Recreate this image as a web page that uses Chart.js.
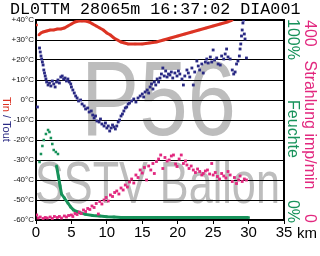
<!DOCTYPE html>
<html>
<head>
<meta charset="utf-8">
<script src="https://cdn.jsdelivr.net/npm/chart.js@4"></script>
<style>
html,body{margin:0;padding:0;background:#fff;}
canvas{display:block;}
</style>
</head>
<body>
<canvas id="c" width="320" height="256"></canvas>
<script>
// ---- data (km, value) ----
const titleText = "DL0TTM 28065m 16:37:02 DIA001";
const xTicks = [0, 5, 10, 15, 20, 25, 30, 35];
const tempRange = [-60, 40];
const feuchteRange = [0, 100];
const strahlungRange = [0, 400];

// Tin (°C)
const tinData = [
  [0.1,37.5],[0.25,null],[0.4,32.5],[0.7,33.5],[1,34],[1.5,34.5],[2,35],[2.5,35],[3,35.5],[3.5,35.5],
  [4,36],[4.5,37],[5,38],[5.5,39],[6,39.5],[6.5,39.5],[7,39.5],[7.5,39],[8,38],[8.5,37],
  [9,36],[9.5,35],[10,33.5],[10.5,32.5],[11,31],[11.5,30],[12,29],[12.5,28.5],[13,28],[14,28],
  [15,28],[16,28.5],[17,29],[18,30],[19,31],[20,32],[21,33],[22,34],[23,35],[24,36],
  [25,37],[26,38],[27,39],[27.7,40]
];

// Tout (°C)
const toutData = [
  [0.2,-3.5],[0.5,26],[0.6,24],[0.7,22],[0.8,20.5],[0.9,19],[1.0,17.5],[1.1,15],[1.2,13.5],[1.3,12],
  [1.4,10.5],[1.5,9],[1.7,7.5],[1.9,8.5],[2.1,7],[2.3,9.5],[2.5,8],[2.7,6.5],[2.9,9],[3.1,10],
  [3.3,8.5],[3.5,11.5],[3.7,12],[3.9,10.5],[4.1,11],[4.3,9.5],[4.5,10.5],[4.7,9],[4.9,8],[5.0,6.5],
  [5.2,5],[5.4,3.5],[5.6,2],[5.8,1],[6.0,-0.5],[6.3,0],[6.5,-2],[6.8,-3],[7.0,-4.5],[7.3,-4],
  [7.5,-6],[7.8,-5.5],[8.0,-7.5],[8.2,-9],[8.4,-8],[8.6,-10.5],[8.9,-11],[9.1,-9.5],[9.3,-12],[9.6,-13],
  [9.8,-11.5],[10.0,-14],[10.2,-13],[10.4,-15.5],[10.6,-14],[10.8,-12.5],[11.0,-13.5],[11.2,-14.5],[11.4,-13],[11.6,-11],
  [11.8,-10],[12.0,-8],[12.2,-7],[12.4,-5.5],[12.6,-4],[12.8,-3.5],[13.0,-2],[13.2,-1.5],[13.5,-0.5],[13.8,0.5],
  [14.1,-1],[14.4,1],[14.7,2],[15.0,3],[15.2,1.5],[15.4,4],[15.7,5],[15.9,3.5],[16.1,6.5],[16.3,8],
  [16.5,5.5],[16.7,9],[16.9,7.5],[17.1,10.5],[17.3,9],[17.5,11],[17.7,13],[17.9,16],[18.1,12],[18.3,14.5],
  [18.5,11.5],[18.7,13],[18.9,12.5],[19.1,14],[19.3,11],[19.6,13.5],[19.9,12],[20.1,14.5],[20.3,13],[20.6,10.5],
  [20.8,7.5],[21.0,12],[21.3,15],[21.5,13.5],[21.7,11.5],[22.0,16],[22.2,7.5],[22.4,14],[22.7,19.5],[22.9,17],
  [23.1,15],[23.4,18],[23.6,13.5],[23.9,19],[24.1,20.5],[24.3,18.5],[24.6,21.5],[24.8,19],[25.0,25],[25.2,20],
  [25.5,21],[25.7,18],[26.0,17.5],[26.2,22],[26.5,20.5],[26.7,23],[26.9,25.5],[27.1,21.5],[27.4,20.5],[27.7,15],
  [27.9,13],[28.1,14],[28.3,18],[28.5,19.5],[28.7,22],[28.8,25.5],[28.9,28],[29.0,32],[29.1,35],[29.2,38.5],
  [29.3,40],[29.4,33],[29.5,30.5],[29.7,21]
];

// Feuchte (%)
const feuchteData = [
  [0.5,29],[0.7,33],[0.9,37],[1.1,40],[1.4,43],[1.7,45],[1.9,44],[2.1,41],[2.3,38],[2.5,35],
  [2.8,34],[3.1,33],[2.9,27],[3.15,22],[3.4,17],[3.6,13],[4.0,11],[4.5,8.5],[4.9,6.5],[5.3,5],
  [5.8,4.2],[6.3,3.5],[7,2.8],[8,2.2],[9,2],[10,1.6],[11,1.5],[12,1.3],[14,1.2],[17,1.2],
  [20,1.2],[23,1.2],[26,1.2],[28,1.2],[30,1.2]
];

// Strahlung (imp/min)
const strahlungData = [
  [0.1,10],[0.3,4],[0.6,6],[1.0,3],[1.3,5],[1.6,4],[2.0,6],[2.3,3],[2.6,7],[3.0,5],
  [3.3,7],[3.6,4],[4.0,8],[4.3,6],[4.6,9],[5.0,10],[5.2,7],[5.5,13],[5.8,11],[6.1,16],
  [6.4,13],[6.7,20],[7.0,17],[7.3,23],[7.6,21],[7.9,28],[8.2,25],[8.5,33],[8.8,12],[9.0,37],
  [9.3,32],[9.6,40],[9.9,45],[10.2,38],[10.5,50],[10.8,47],[11.1,55],[11.4,58],[11.7,52],[12.0,64],
  [12.3,60],[12.6,70],[12.9,66],[13.2,76],[13.5,82],[13.8,74],[14.1,90],[14.4,85],[14.7,100],[15.0,94],
  [15.3,105],[15.6,80],[15.9,108],[16.2,100],[16.5,113],[16.7,93],[17.0,117],[17.3,122],[17.6,130],[17.9,103],
  [18.2,125],[18.5,118],[18.8,120],[19.1,128],[19.4,130],[19.7,112],[19.9,107],[20.2,122],[20.5,130],[20.8,113],
  [21.1,118],[21.3,110],[21.6,103],[21.9,108],[22.2,100],[22.5,95],[22.8,102],[23.1,97],[23.4,90],[23.6,93],
  [23.9,98],[24.2,100],[24.5,92],[24.8,113],[25.0,90],[25.3,95],[25.6,87],[25.9,82],[26.2,93],[26.5,88],
  [26.8,84],[27.1,97],[27.4,90],[27.7,77],[28.0,85],[28.3,73],[28.6,80],[28.8,88],[29.1,77],[29.4,82],
  [29.7,80]
];

const toXY = arr => arr.map(p => ({x: p[0], y: p[1]}));

const C_RED = '#dc3424', C_BLUE = '#2a2a84', C_GREEN = '#17925a', C_MAG = '#e2287f', C_GRAY = '#bdbdbd';
const F = '"Liberation Sans", Arial, sans-serif';
Chart.defaults.font.family = F;

const decor = {
  id: 'decor',
  beforeDraw(chart) {
    const ctx = chart.ctx;
    ctx.save();
    ctx.fillStyle = '#fff';
    ctx.fillRect(0, 0, chart.width, chart.height);
    ctx.fillStyle = C_GRAY;
    ctx.textBaseline = 'alphabetic';
    ctx.textAlign = 'left';
    ctx.save();
    ctx.translate(81, 135);
    ctx.scale(0.83, 1);
    ctx.font = '105px ' + F;
    ctx.fillText('P56', 0, 0);
    ctx.restore();
    ctx.save();
    ctx.translate(35, 203);
    ctx.scale(0.72, 1);
    ctx.font = '60px ' + F;
    ctx.fillText('SSTV Ballon', 0, 0);
    ctx.restore();
    ctx.restore();
  },
  beforeDatasetsDraw(chart) {
    const ctx = chart.ctx, a = chart.chartArea;
    ctx.save();
    ctx.strokeStyle = '#000';
    ctx.lineWidth = 2;
    ctx.beginPath();
    ctx.moveTo(a.left, a.top);
    ctx.lineTo(a.right, a.top);
    ctx.lineTo(a.right, a.bottom);
    ctx.stroke();
    ctx.restore();
  },
  afterDraw(chart) {
    const ctx = chart.ctx;
    ctx.save();
    // title
    ctx.fillStyle = '#000';
    ctx.font = '16.7px "Liberation Mono", monospace';
    ctx.textBaseline = 'alphabetic';
    ctx.textAlign = 'left';
    ctx.fillText(titleText, 10, 14);
    // km
    ctx.font = '15px ' + F;
    ctx.fillText('km', 297, 238);
    // left rotated label
    ctx.save();
    ctx.translate(3, 97);
    ctx.rotate(Math.PI / 2);
    ctx.font = '11px ' + F;
    let x = 0;
    ctx.fillStyle = C_RED; ctx.fillText('Tin', x, 0); x += ctx.measureText('Tin').width;
    ctx.fillStyle = C_BLUE; ctx.fillText(' / Tout', x, 0);
    ctx.restore();
    // right rotated labels
    const rot = (txt, bx, y, align, color) => {
      ctx.save();
      ctx.translate(bx, y);
      ctx.rotate(Math.PI / 2);
      ctx.textAlign = align;
      ctx.fillStyle = color;
      ctx.font = '16px ' + F;
      ctx.fillText(txt, 0, 0);
      ctx.restore();
    };
    rot('100%', 288, 19, 'left', C_GREEN);
    rot('Feuchte', 288, 129, 'center', C_GREEN);
    rot('0%', 288, 223, 'right', C_GREEN);
    rot('400', 305, 20, 'left', C_MAG);
    rot('Strahlung imp/min', 305, 125, 'center', C_MAG);
    rot('0', 305, 223, 'right', C_MAG);
    ctx.restore();
  }
};

new Chart(document.getElementById('c'), {
  type: 'scatter',
  data: {
    datasets: [
      { label: 'Tout', data: toXY(toutData), order: 0, showLine: false,
        pointStyle: 'rect', pointRadius: 2, pointBorderWidth: 0, pointBackgroundColor: C_BLUE },
      { label: 'Tin', data: toXY(tinData), order: 1, showLine: true, spanGaps: false,
        borderColor: C_RED, borderWidth: 3, pointStyle: 'rect', pointRadius: 1.6,
        pointBorderWidth: 0, pointBackgroundColor: C_RED },
      { label: 'Strahlung', data: toXY(strahlungData), yAxisID: 'yR', order: 2, showLine: false,
        pointStyle: 'rect', pointRadius: 2, pointBorderWidth: 0, pointBackgroundColor: C_MAG },
      { label: 'Feuchte', data: toXY(feuchteData), yAxisID: 'yH', order: 3, showLine: true,
        borderColor: C_GREEN, borderWidth: 3, pointStyle: 'rect', pointRadius: 1.8,
        pointBorderWidth: 0, pointBackgroundColor: C_GREEN,
        segment: { borderColor: c => c.p0DataIndex < 12 ? 'rgba(0,0,0,0)' : undefined } }
    ]
  },
  options: {
    responsive: false,
    animation: false,
    devicePixelRatio: 1,
    layout: { padding: { left: 0, right: 36, top: 20, bottom: 0 } },
    plugins: { legend: { display: false }, tooltip: { enabled: false }, title: { display: false } },
    scales: {
      x: {
        type: 'linear', position: 'bottom', min: xTicks[0], max: xTicks[xTicks.length - 1],
        afterFit: s => { s.height = 36; },
        afterBuildTicks: s => { s.ticks = xTicks.map(v => ({ value: v })); },
        ticks: { font: { size: 15 }, color: '#000', padding: 0, maxRotation: 0, autoSkip: false },
        grid: { drawOnChartArea: false, drawTicks: true, tickLength: 4, color: '#000', lineWidth: 1 },
        border: { display: true, color: '#000', width: 2 }
      },
      y: {
        type: 'linear', position: 'left', min: tempRange[0], max: tempRange[1],
        afterFit: s => { s.width = 36; },
        ticks: { stepSize: 10, font: { size: 8 }, color: '#111', padding: 2,
          callback: v => (v > 0 ? '+' : '') + v + '°C' },
        grid: { color: '#000', lineWidth: 1, drawTicks: false },
        border: { display: true, color: '#000', width: 2 }
      },
      yH: { type: 'linear', display: false, min: feuchteRange[0], max: feuchteRange[1] },
      yR: { type: 'linear', display: false, min: strahlungRange[0], max: strahlungRange[1] }
    }
  },
  plugins: [decor]
});
</script>
</body>
</html>
